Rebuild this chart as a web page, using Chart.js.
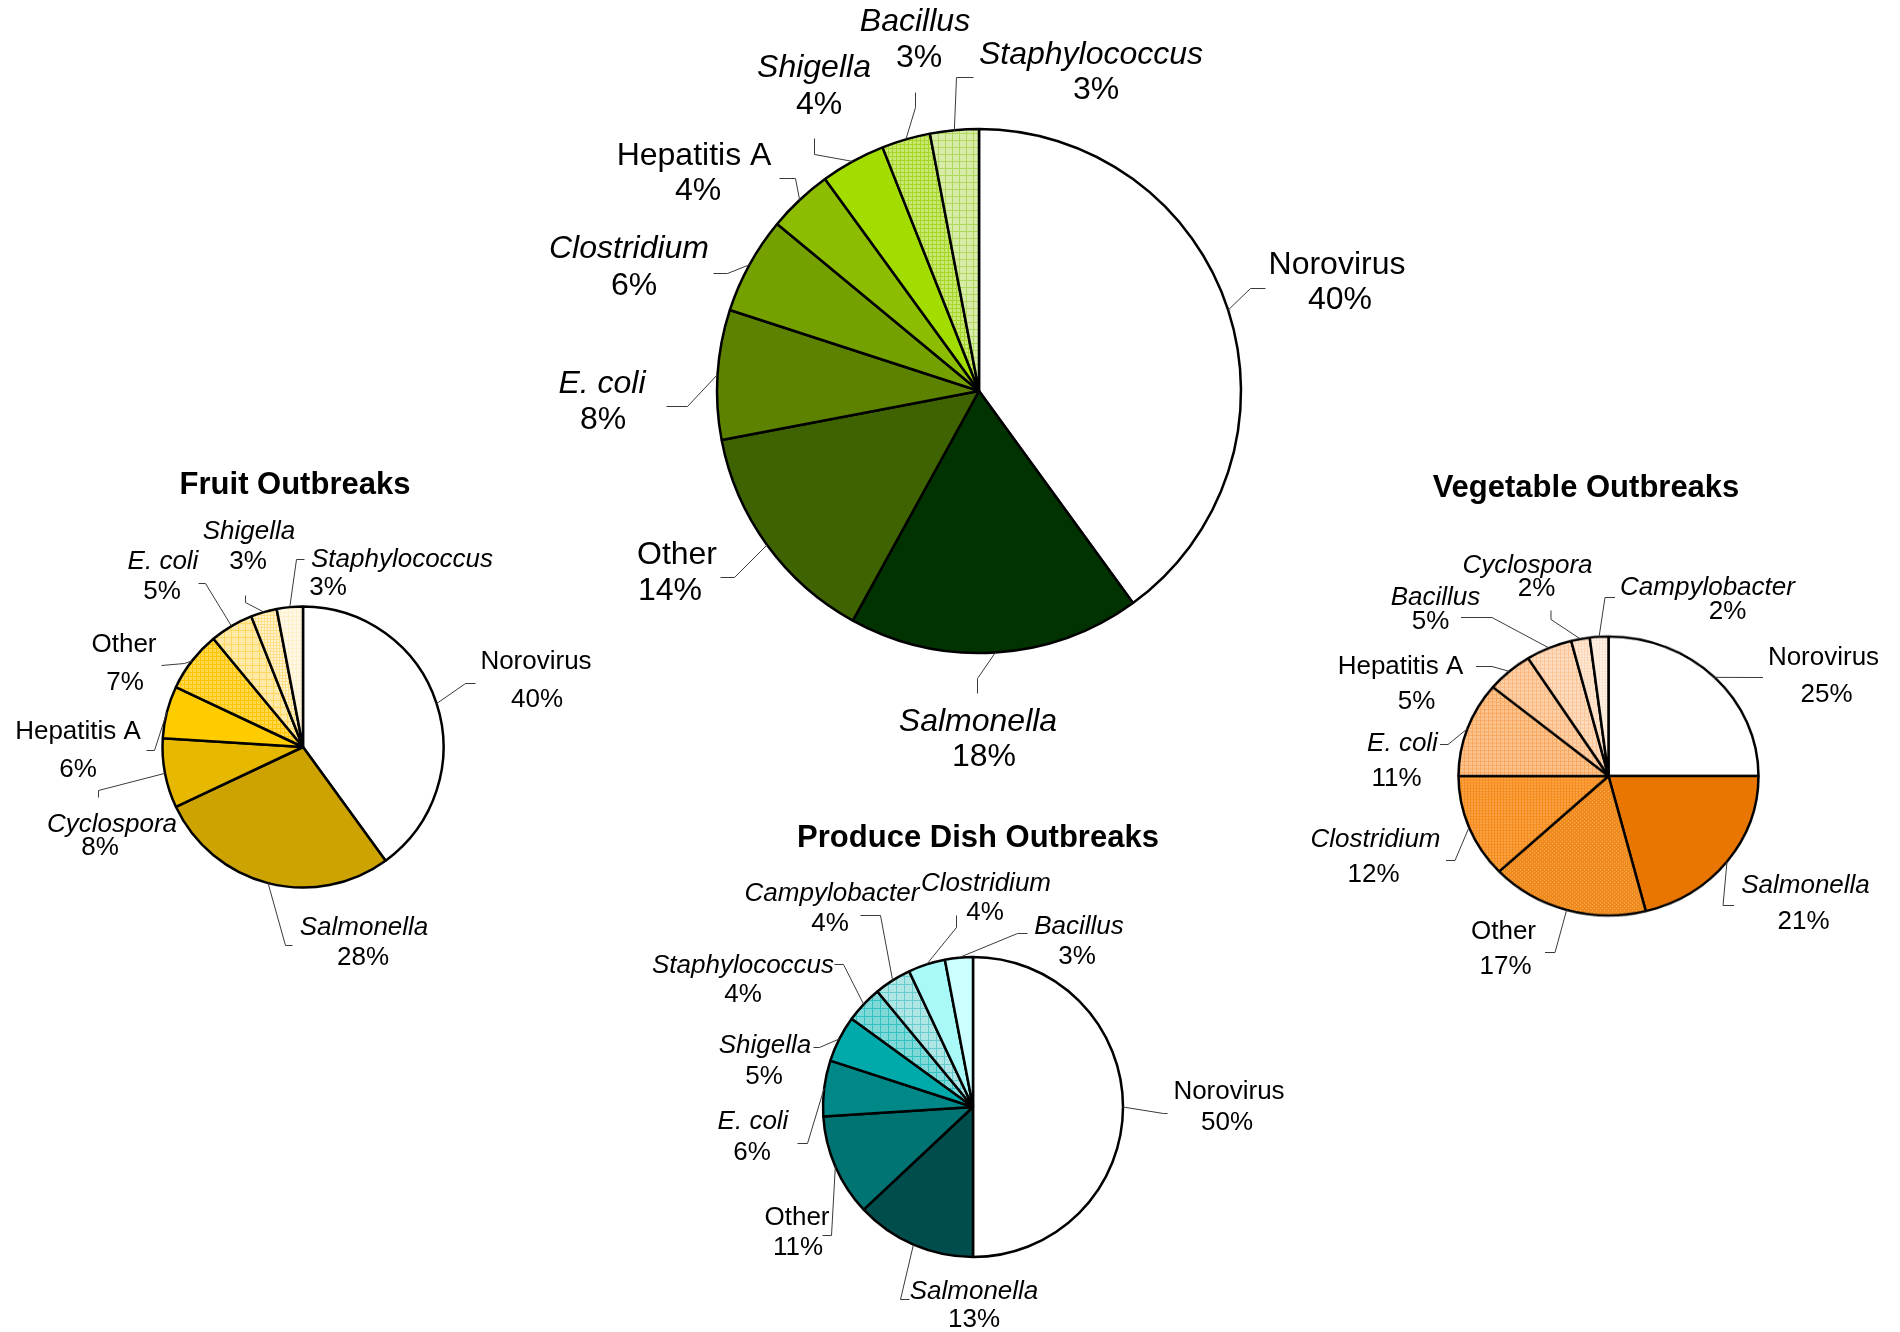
<!DOCTYPE html>
<html>
<head>
<meta charset="utf-8">
<script src="https://cdn.jsdelivr.net/npm/chart.js@4.4.1/dist/chart.umd.min.js"></script>
<style>
html,body{margin:0;padding:0;background:#fff;}
#wrap{position:relative;width:1900px;height:1332px;overflow:hidden;background:#fff;}
#wrap canvas{position:absolute;left:0;top:0;}
</style>
</head>
<body>
<div id="wrap">
<canvas id="cMain" width="1900" height="1332"></canvas>
<canvas id="cFruit" width="1900" height="1332"></canvas>
<canvas id="cVeg" width="1900" height="1332"></canvas>
<canvas id="cDish" width="1900" height="1332"></canvas>
<canvas id="overlay" width="1900" height="1332"></canvas>
</div>
<script>
// ---------------- DATA ----------------
const mainCategories = ['Norovirus','Salmonella','Other','E. coli','Clostridium','Hepatitis A','Shigella','Bacillus','Staphylococcus'];
const mainValues     = [40, 18, 14, 8, 6, 4, 4, 3, 3];

const fruitTitle      = 'Fruit Outbreaks';
const fruitCategories = ['Norovirus','Salmonella','Cyclospora','Hepatitis A','Other','E. coli','Shigella','Staphylococcus'];
const fruitValues     = [40, 28, 8, 6, 7, 5, 3, 3];

const vegTitle      = 'Vegetable Outbreaks';
const vegCategories = ['Norovirus','Salmonella','Other','Clostridium','E. coli','Hepatitis A','Bacillus','Cyclospora','Campylobacter'];
const vegValues     = [25, 21, 17, 12, 11, 5, 5, 2, 2];

const dishTitle      = 'Produce Dish Outbreaks';
const dishCategories = ['Norovirus','Salmonella','Other','E. coli','Shigella','Staphylococcus','Campylobacter','Clostridium','Bacillus'];
const dishValues     = [50, 13, 11, 6, 5, 4, 4, 4, 3];

const italicNames = ['Salmonella','E. coli','Clostridium','Shigella','Bacillus','Staphylococcus','Cyclospora','Campylobacter'];

// ---------------- STYLES ----------------
function gridPattern(base, line, step, lw) {
  const c = document.createElement('canvas');
  c.width = step; c.height = step;
  const g = c.getContext('2d');
  g.fillStyle = base; g.fillRect(0, 0, step, step);
  g.fillStyle = line; g.fillRect(0, 0, step, lw); g.fillRect(0, 0, lw, step);
  return g.createPattern(c, 'repeat');
}
function dotPattern(base, dot) {
  const c = document.createElement('canvas');
  c.width = 4; c.height = 4;
  const g = c.getContext('2d');
  g.fillStyle = base; g.fillRect(0, 0, 4, 4);
  g.fillStyle = dot; g.fillRect(0, 0, 1, 1); g.fillRect(2, 2, 1, 1);
  return g.createPattern(c, 'repeat');
}

const mainColors = ['#ffffff','#003300','#3f6300','#5c8200','#74a000','#8cbd00','#a3dd00',
  gridPattern('#c8e870','#a6d62c',4,1), gridPattern('#d6eca8','#b0d85c',7,1)];
const fruitColors = ['#ffffff','#cca300','#e6b800','#ffcc00',
  gridPattern('#ffd84c','#ffc400',4,1), gridPattern('#ffe9a6','#ffd660',7,1),
  gridPattern('#fff3d0','#ffe088',3,1), gridPattern('#fff8e6','#fff0cc',4,1)];
const vegColors = ['#ffffff','#e87600', dotPattern('#f08a1c','#f8b468'),
  gridPattern('#f9a448','#f78c1c',3,1), gridPattern('#fcc48e','#f9a860',4,1),
  gridPattern('#fdd0a8','#fbb880',4,1), gridPattern('#fedcc0','#fcc698',4,1),
  gridPattern('#feead8','#fdd8b8',3,1), gridPattern('#fff4ea','#fde4d0',3,1)];
const dishColors = ['#ffffff','#004d4d','#007373','#008888','#00aaaa',
  gridPattern('#7fd9d9','#33c2c2',8,1), gridPattern('#aee6e6','#66cccc',8,1), '#aaf9f9', '#ccffff'];

// label layout: text centres (t1, t2), leader elbow (e) and end (a), relative to pie centre
const mainLayout = [
  {t1:[358,-126], t2:[361,-91],  e:[271,-103], a:[286,-103]},
  {t1:[-1,331],   t2:[5,366],    e:[-2,287],   a:[-2,302]},
  {t1:[-302,164], t2:[-309,200], e:[-245,186], a:[-259,186]},
  {t1:[-377,-7],  t2:[-376,29],  e:[-292,15],  a:[-313,15]},
  {t1:[-350,-142],t2:[-345,-105],e:[-252,-118],a:[-266,-118]},
  {t1:[-285,-235],t2:[-281,-200],e:[-184,-213],a:[-200,-213]},
  {t1:[-165,-323],t2:[-160,-286],e:[-165,-237],a:[-165,-253]},
  {t1:[-64,-369], t2:[-60,-333], e:[-64,-284], a:[-64,-299]},
  {t1:[112,-336], t2:[117,-301], e:[-23,-314], a:[-6,-314]}
];
const fruitLayout = [
  {t1:[233,-85],  t2:[234,-47],  e:[162,-64],  a:[172,-64]},
  {t1:[61,181],   t2:[60,211],   e:[-18,198],  a:[-11,198]},
  {t1:[-191,78],  t2:[-203,101], e:[-205,43],  a:[-205,50]},
  {t1:[-225,-15], t2:[-225,23],  e:[-149,3],   a:[-157,3]},
  {t1:[-179,-102],t2:[-178,-64], e:[-119,-84], a:[-142,-82]},
  {t1:[-140,-185],t2:[-141,-155],e:[-98,-164], a:[-105,-164]},
  {t1:[-54,-215], t2:[-55,-185], e:[-58,-145], a:[-58,-152]},
  {t1:[99,-187],  t2:[25,-159],  e:[-7,-188],  a:[1,-188]}
];
const vegLayout = [
  {t1:[215,-118], t2:[218,-81],  e:[150,-99],  a:[154,-99]},
  {t1:[197,110],  t2:[195,146],  e:[114,129],  a:[125,129]},
  {t1:[-105,156], t2:[-103,191], e:[-54,176],  a:[-64,176]},
  {t1:[-233,64],  t2:[-235,99],  e:[-154,84],  a:[-163,84]},
  {t1:[-206,-32], t2:[-212,3],   e:[-161,-32], a:[-169,-32]},
  {t1:[-208,-109],t2:[-192,-74], e:[-117,-110],a:[-133,-110]},
  {t1:[-173,-178],t2:[-178,-154],e:[-117,-159],a:[-148,-159]},
  {t1:[-81,-210], t2:[-72,-187], e:[-58,-157], a:[-58,-166]},
  {t1:[99,-188],  t2:[119,-164], e:[-4,-179],  a:[6,-179]}
];
const dishLayout = [
  {t1:[256,-15],  t2:[254,16],   e:[190,6],    a:[194,6]},
  {t1:[1,185],    t2:[1,213],    e:[-73,192],  a:[-64,192]},
  {t1:[-176,111], t2:[-175,141], e:[-142,128], a:[-151,128]},
  {t1:[-220,15],  t2:[-221,46],  e:[-166,36],  a:[-176,36]},
  {t1:[-208,-61], t2:[-209,-30], e:[-154,-60], a:[-160,-60]},
  {t1:[-230,-141],t2:[-230,-112],e:[-130,-143],a:[-139,-143]},
  {t1:[-141,-213],t2:[-143,-183],e:[-93,-192], a:[-113,-192]},
  {t1:[13,-223],  t2:[12,-194],  e:[-17,-180], a:[-17,-192]},
  {t1:[106,-180], t2:[104,-150], e:[44,-174],  a:[54,-174]}
];

// ---------------- DRAWING ----------------
const overlayCtx = document.getElementById('overlay').getContext('2d');
const FONT = '"Liberation Sans", Arial, sans-serif';

const pieLabels = {
  id: 'pieLabels',
  afterDatasetsDraw(chart, args, o) {
    const ctx = overlayCtx;
    const meta = chart.getDatasetMeta(0);
    const cats = chart.data.labels;
    const vals = chart.data.datasets[0].data;
    const sy = o.sy || 1;
    let cx = 0, cy = 0;
    ctx.save();
    meta.data.forEach((arc, i) => {
      const p = arc.getProps(['x','y','startAngle','endAngle','outerRadius'], true);
      cx = p.x; cy = p.y;
      const L = o.layout[i];
      if (!L) return;
      const mid = (p.startAngle + p.endAngle) / 2;
      const ax = p.x + Math.cos(mid) * p.outerRadius;
      const ay = p.y + Math.sin(mid) * p.outerRadius * sy;
      ctx.strokeStyle = '#3a3a3a';
      ctx.lineWidth = 1;
      ctx.beginPath();
      ctx.moveTo(ax, ay);
      ctx.lineTo(cx + L.e[0] + 0.5, cy + L.e[1] + 0.5);
      ctx.lineTo(cx + L.a[0] + 0.5, cy + L.a[1] + 0.5);
      ctx.stroke();
      ctx.fillStyle = '#000';
      ctx.textAlign = 'center';
      ctx.textBaseline = 'middle';
      ctx.font = (italicNames.includes(cats[i]) ? 'italic ' : '') + o.size + 'px ' + FONT;
      ctx.fillText(cats[i], cx + L.t1[0], cy + L.t1[1]);
      ctx.font = o.size + 'px ' + FONT;
      ctx.fillText(vals[i] + '%', cx + L.t2[0], cy + L.t2[1]);
    });
    if (o.title) {
      ctx.font = 'bold ' + o.titleSize + 'px ' + FONT;
      ctx.textAlign = 'center';
      ctx.textBaseline = 'middle';
      ctx.fillStyle = '#000';
      ctx.fillText(o.title, cx + o.titlePos[0], cy + o.titlePos[1]);
    }
    ctx.restore();
  }
};

function makePie(id, cats, vals, colors, center, r, labelOpts) {
  const bw = 2.5;
  const half = r + bw / 2;
  const canvas = document.getElementById(id);
  if (labelOpts.sy && labelOpts.sy !== 1) {
    canvas.style.transform = 'scaleY(' + labelOpts.sy + ')';
    canvas.style.transformOrigin = '0px ' + center[1] + 'px';
  }
  return new Chart(canvas, {
    type: 'pie',
    data: {
      labels: cats,
      datasets: [{
        data: vals,
        backgroundColor: colors,
        borderColor: '#000',
        borderWidth: bw,
        hoverOffset: 0,
        offset: 0
      }]
    },
    options: {
      responsive: false,
      animation: false,
      devicePixelRatio: 1,
      events: [],
      layout: { padding: {
        left: center[0] - half, top: center[1] - half,
        right: 1900 - center[0] - half, bottom: 1332 - center[1] - half } },
      plugins: {
        legend: { display: false },
        tooltip: { enabled: false },
        title: { display: false },
        pieLabels: labelOpts
      }
    },
    plugins: [pieLabels]
  });
}

makePie('cMain', mainCategories, mainValues, mainColors, [979, 391], 262,
  { layout: mainLayout, size: 32 });
makePie('cFruit', fruitCategories, fruitValues, fruitColors, [303, 747], 140.5,
  { layout: fruitLayout, size: 26, title: fruitTitle, titleSize: 31, titlePos: [-8, -262] });
makePie('cVeg', vegCategories, vegValues, vegColors, [1608.5, 776], 150,
  { layout: vegLayout, size: 26, sy: 0.93, title: vegTitle, titleSize: 31, titlePos: [-22.5, -288] });
makePie('cDish', dishCategories, dishValues, dishColors, [973, 1107], 150,
  { layout: dishLayout, size: 26, title: dishTitle, titleSize: 31, titlePos: [5, -269] });
</script>
</body>
</html>
